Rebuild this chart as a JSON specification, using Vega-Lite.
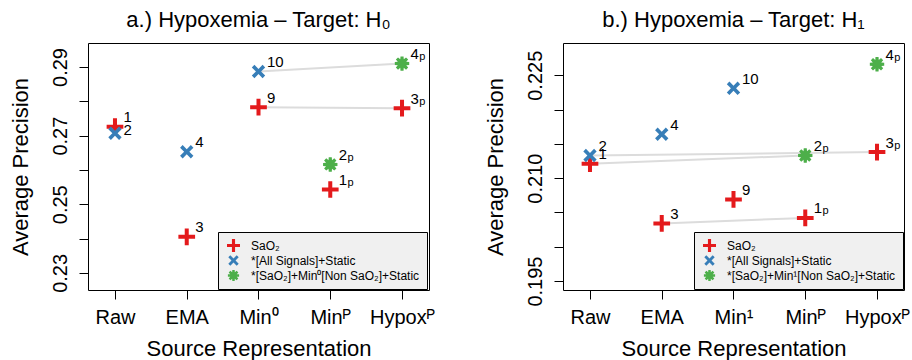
{
  "$schema": "https://vega.github.io/schema/vega-lite/v6.json",
  "padding": {"left": 8, "top": 8, "right": 5, "bottom": 0},
  "background": "white",
  "config": {
    "font": "Liberation Sans",
    "view": {"stroke": "black", "strokeWidth": 1},
    "axis": {"grid": false, "domain": false, "tickColor": "black", "tickSize": 9, "tickWidth": 1, "labelColor": "black", "titleColor": "black", "labelFontSize": 20, "titleFontSize": 22, "titleFontWeight": "normal", "labelOverlap": false, "labelFlush": false},
    "title": {"fontSize": 22, "fontWeight": "normal", "color": "black", "baseline": "alphabetic", "offset": 11, "anchor": "middle"},
    "legend": {"fillColor": "#f0f0f0", "strokeColor": "black", "padding": 7, "labelFontSize": 12, "labelColor": "black", "symbolSize": 169, "symbolStrokeWidth": 0, "rowPadding": 2, "labelOffset": 11, "symbolOffset": 2, "labelLimit": 400, "title": null}
  },
  "datasets": {
    "points": [
      {"panel": "a", "series": "SaO₂", "x": 1, "y": 0.2726, "num": "1", "sub": ""},
      {"panel": "a", "series": "SaO₂", "x": 2, "y": 0.2405, "num": "3", "sub": ""},
      {"panel": "a", "series": "SaO₂", "x": 3, "y": 0.2783, "num": "9", "sub": ""},
      {"panel": "a", "series": "SaO₂", "x": 4, "y": 0.2543, "num": "1", "sub": "p"},
      {"panel": "a", "series": "SaO₂", "x": 5, "y": 0.2780, "num": "3", "sub": "p"},
      {"panel": "a", "series": "*[All Signals]+Static", "x": 1, "y": 0.2707, "num": "2", "sub": ""},
      {"panel": "a", "series": "*[All Signals]+Static", "x": 2, "y": 0.2653, "num": "4", "sub": ""},
      {"panel": "a", "series": "*[All Signals]+Static", "x": 3, "y": 0.2887, "num": "10", "sub": ""},
      {"panel": "a", "series": "*[SaO₂]+Min⁰[Non SaO₂]+Static", "x": 4, "y": 0.2616, "num": "2", "sub": "p"},
      {"panel": "a", "series": "*[SaO₂]+Min⁰[Non SaO₂]+Static", "x": 5, "y": 0.2910, "num": "4", "sub": "p"},
      {"panel": "b", "series": "SaO₂", "x": 1, "y": 0.2121, "num": "1", "sub": ""},
      {"panel": "b", "series": "SaO₂", "x": 2, "y": 0.2034, "num": "3", "sub": ""},
      {"panel": "b", "series": "SaO₂", "x": 3, "y": 0.2069, "num": "9", "sub": ""},
      {"panel": "b", "series": "SaO₂", "x": 4, "y": 0.2042, "num": "1", "sub": "p"},
      {"panel": "b", "series": "SaO₂", "x": 5, "y": 0.2138, "num": "3", "sub": "p"},
      {"panel": "b", "series": "*[All Signals]+Static", "x": 1, "y": 0.2133, "num": "2", "sub": ""},
      {"panel": "b", "series": "*[All Signals]+Static", "x": 2, "y": 0.2164, "num": "4", "sub": ""},
      {"panel": "b", "series": "*[All Signals]+Static", "x": 3, "y": 0.2231, "num": "10", "sub": ""},
      {"panel": "b", "series": "*[SaO₂]+Min¹[Non SaO₂]+Static", "x": 4, "y": 0.2133, "num": "2", "sub": "p"},
      {"panel": "b", "series": "*[SaO₂]+Min¹[Non SaO₂]+Static", "x": 5, "y": 0.2266, "num": "4", "sub": "p"}
    ],
    "links": [
      {"panel": "a", "x": 3, "y": 0.2887, "x2": 5, "y2": 0.2910},
      {"panel": "a", "x": 3, "y": 0.2783, "x2": 5, "y2": 0.2780},
      {"panel": "b", "x": 1, "y": 0.2133, "x2": 5, "y2": 0.2138},
      {"panel": "b", "x": 1, "y": 0.2121, "x2": 4, "y2": 0.2133},
      {"panel": "b", "x": 2, "y": 0.2034, "x2": 4, "y2": 0.2042}
    ]
  },
  "spacing": 134,
  "bounds": "flush",
  "hconcat": [
    {
      "width": 341,
      "height": 247,
      "title": {"text": "a.) Hypoxemia – Target: H₀"},
      "encoding": {
        "x": {"field": "x", "type": "quantitative", "scale": {"domain": [0.624, 5.376], "nice": false, "zero": false},
          "axis": {"values": [1, 2, 3, 4, 5], "labelExpr": "['Raw','EMA','Min⁰','Minᴾ','Hypoxᴾ'][datum.value-1]", "title": "Source Representation", "labelBaseline": "alphabetic", "labelAlign": "center", "labelPadding": 24, "titleBaseline": "alphabetic", "titleAlign": "center", "titleX": 170.5, "titleY": 65.5}},
        "y": {"field": "y", "type": "quantitative", "scale": {"domain": [0.225, 0.297], "nice": false, "zero": false},
          "axis": {"values": [0.23, 0.24, 0.25, 0.26, 0.27, 0.28, 0.29], "labelExpr": "round(datum.value*100) % 2 == 1 ? format(datum.value, '.2f') : ''", "labelAngle": -90, "labelAlign": "center", "labelBaseline": "alphabetic", "labelPadding": 13, "title": "Average Precision", "titleAngle": 270, "titleAlign": "center", "titleBaseline": "alphabetic", "titleX": -61, "titleY": 123.5}}
      },
      "layer": [
        {
          "data": {"name": "links"},
          "transform": [{"filter": "datum.panel == 'a'"}],
          "mark": {"type": "rule", "color": "#dcdcdc", "strokeWidth": 2},
          "encoding": {"x2": {"field": "x2"}, "y2": {"field": "y2"}}
        },
        {
          "data": {"name": "points"},
          "transform": [{"filter": "datum.panel == 'a'"}],
          "mark": {"type": "point", "filled": true, "opacity": 1, "size": 279},
          "encoding": {
            "color": {"field": "series", "type": "nominal",
              "scale": {"domain": ["SaO₂", "*[All Signals]+Static", "*[SaO₂]+Min⁰[Non SaO₂]+Static"], "range": ["#E41A1C", "#377EB8", "#4DAF4A"]},
              "legend": {"orient": "none", "legendX": 130, "legendY": 189}},
            "shape": {"field": "series", "type": "nominal",
              "scale": {"domain": ["SaO₂", "*[All Signals]+Static", "*[SaO₂]+Min⁰[Non SaO₂]+Static"], "range": [
                "M-1,-0.24H-0.24V-1H0.24V-0.24H1V0.24H0.24V1H-0.24V0.24H-1Z",
                "M-0.8,-0.49L-0.49,-0.8L0,-0.31L0.49,-0.8L0.8,-0.49L0.31,0L0.8,0.49L0.49,0.8L0,0.31L-0.49,0.8L-0.8,0.49L-0.31,0Z",
                "M0.861,-0.183L0.861,0.183L0.504,0.209L0.738,0.479L0.479,0.738L0.209,0.504L0.183,0.861L-0.183,0.861L-0.209,0.504L-0.479,0.738L-0.738,0.479L-0.504,0.209L-0.861,0.183L-0.861,-0.183L-0.504,-0.209L-0.738,-0.479L-0.479,-0.738L-0.209,-0.504L-0.183,-0.861L0.183,-0.861L0.209,-0.504L0.479,-0.738L0.738,-0.479L0.504,-0.209Z"]}}
          }
        },
        {
          "data": {"name": "points"},
          "transform": [{"filter": "datum.panel == 'a' && !(datum.num == '2' && datum.sub == '')"}],
          "mark": {"type": "text", "align": "left", "baseline": "alphabetic", "dx": 8.5, "dy": -4.5, "fontSize": 15, "color": "black"},
          "encoding": {"text": {"field": "num"}}
        },
        {
          "data": {"name": "points"},
          "transform": [{"filter": "datum.panel == 'a' && datum.num == '2' && datum.sub == ''"}],
          "mark": {"type": "text", "align": "left", "baseline": "alphabetic", "dx": 8.5, "dy": 1.5, "fontSize": 15, "color": "black"},
          "encoding": {"text": {"field": "num"}}
        },
        {
          "data": {"name": "points"},
          "transform": [{"filter": "datum.panel == 'a' && datum.sub == 'p'"}],
          "mark": {"type": "text", "align": "left", "baseline": "alphabetic", "dx": 17.3, "dy": -3.5, "fontSize": 11, "color": "black"},
          "encoding": {"text": {"field": "sub"}}
        }
      ]
    },
    {
      "width": 341,
      "height": 247,
      "title": {"text": "b.) Hypoxemia – Target: H₁"},
      "encoding": {
        "x": {"field": "x", "type": "quantitative", "scale": {"domain": [0.624, 5.376], "nice": false, "zero": false},
          "axis": {"values": [1, 2, 3, 4, 5], "labelExpr": "['Raw','EMA','Min¹','Minᴾ','Hypoxᴾ'][datum.value-1]", "title": "Source Representation", "labelBaseline": "alphabetic", "labelAlign": "center", "labelPadding": 24, "titleBaseline": "alphabetic", "titleAlign": "center", "titleX": 170.5, "titleY": 65.5}},
        "y": {"field": "y", "type": "quantitative", "scale": {"domain": [0.1937, 0.2297], "nice": false, "zero": false},
          "axis": {"values": [0.195, 0.2, 0.205, 0.21, 0.215, 0.22, 0.225], "labelExpr": "(round(datum.value*1000) - 195) % 15 == 0 ? format(datum.value, '.3f') : ''", "labelAngle": -90, "labelAlign": "center", "labelBaseline": "alphabetic", "labelPadding": 13, "title": "Average Precision", "titleAngle": 270, "titleAlign": "center", "titleBaseline": "alphabetic", "titleX": -61, "titleY": 123.5}}
      },
      "layer": [
        {
          "data": {"name": "links"},
          "transform": [{"filter": "datum.panel == 'b'"}],
          "mark": {"type": "rule", "color": "#dcdcdc", "strokeWidth": 2},
          "encoding": {"x2": {"field": "x2"}, "y2": {"field": "y2"}}
        },
        {
          "data": {"name": "points"},
          "transform": [{"filter": "datum.panel == 'b'"}],
          "mark": {"type": "point", "filled": true, "opacity": 1, "size": 279},
          "encoding": {
            "color": {"field": "series", "type": "nominal",
              "scale": {"domain": ["SaO₂", "*[All Signals]+Static", "*[SaO₂]+Min¹[Non SaO₂]+Static"], "range": ["#E41A1C", "#377EB8", "#4DAF4A"]},
              "legend": {"orient": "none", "legendX": 131, "legendY": 189}},
            "shape": {"field": "series", "type": "nominal",
              "scale": {"domain": ["SaO₂", "*[All Signals]+Static", "*[SaO₂]+Min¹[Non SaO₂]+Static"], "range": [
                "M-1,-0.24H-0.24V-1H0.24V-0.24H1V0.24H0.24V1H-0.24V0.24H-1Z",
                "M-0.8,-0.49L-0.49,-0.8L0,-0.31L0.49,-0.8L0.8,-0.49L0.31,0L0.8,0.49L0.49,0.8L0,0.31L-0.49,0.8L-0.8,0.49L-0.31,0Z",
                "M0.861,-0.183L0.861,0.183L0.504,0.209L0.738,0.479L0.479,0.738L0.209,0.504L0.183,0.861L-0.183,0.861L-0.209,0.504L-0.479,0.738L-0.738,0.479L-0.504,0.209L-0.861,0.183L-0.861,-0.183L-0.504,-0.209L-0.738,-0.479L-0.479,-0.738L-0.209,-0.504L-0.183,-0.861L0.183,-0.861L0.209,-0.504L0.479,-0.738L0.738,-0.479L0.504,-0.209Z"]}}
          }
        },
        {
          "data": {"name": "points"},
          "transform": [{"filter": "datum.panel == 'b'"}],
          "mark": {"type": "text", "align": "left", "baseline": "alphabetic", "dx": 8.5, "dy": -4.5, "fontSize": 15, "color": "black"},
          "encoding": {"text": {"field": "num"}}
        },
        {
          "data": {"name": "points"},
          "transform": [{"filter": "datum.panel == 'b' && datum.sub == 'p'"}],
          "mark": {"type": "text", "align": "left", "baseline": "alphabetic", "dx": 17.3, "dy": -3.5, "fontSize": 11, "color": "black"},
          "encoding": {"text": {"field": "sub"}}
        }
      ]
    }
  ],
  "resolve": {
    "scale": {"x": "independent", "y": "independent", "color": "independent", "shape": "independent"},
    "legend": {"color": "independent", "shape": "independent"}
  }
}
